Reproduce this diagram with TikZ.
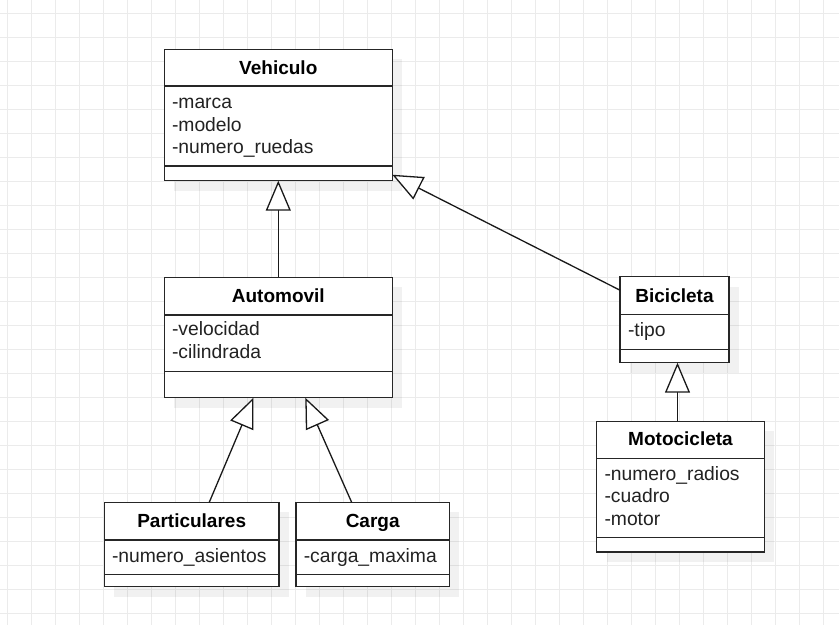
\documentclass[tikz,border=0pt]{standalone}
\usepackage{fontspec}
\setmainfont{Liberation Sans}
\usetikzlibrary{arrows.meta,calc,fit}
\definecolor{gridc}{HTML}{EBEBEB}
\definecolor{attrc}{HTML}{222222}
\tikzset{
  box/.style={draw=black!85, fill=white, line width=1.4pt, inner sep=0pt, outer sep=0pt, rectangle},
  boxline/.style={draw=black!85, line width=1.4pt},
  shadowbox/.style={fill=black, fill opacity=0.055},
  titletext/.style={anchor=base, inner sep=0pt, font=\fontsize{19}{22}\selectfont\bfseries, text=black},
  attrtext/.style={anchor=base west, inner sep=0pt, font=\fontsize{19.3}{22}\selectfont, text=attrc},
  inherit/.style={draw=black!90, line width=1.3pt, -{Triangle[fill=white, length=30pt, width=25pt, line width=1.3pt]}},
}
\newcommand\umlbox[7]{%
  \fill[shadowbox] ($(#2,#3)+(10,10)$) rectangle ($(#4,#5)+(10,10)$);
  \node[box, fit={(#2,#3) (#4,#5)}] (#1) {};
  \draw[boxline] (#2,#6) -- (#4,#6) (#2,#7) -- (#4,#7);
}
\begin{document}
\begin{tikzpicture}[x=1pt, y=-1pt]
\useasboundingbox (0,0) rectangle (839,625);
\fill[white] (0,0) rectangle (839,625);
% grid
\foreach \gx in {7.3,31.3,...,839} \draw[gridc, line width=1pt] (\gx,0) -- (\gx,625);
\foreach \gy in {13.3,37.3,...,625} \draw[gridc, line width=1pt] (0,\gy) -- (839,\gy);

% boxes
\umlbox{veh}{164.3}{49.3}{392.3}{180.7}{86}{166}
\umlbox{auto}{164.3}{277.3}{392.3}{397.7}{315}{371.7}
\umlbox{bici}{620}{276.7}{729}{362.7}{314.3}{349.3}
\umlbox{moto}{596.7}{421.3}{764.3}{552}{458.3}{537.7}
\umlbox{part}{104.3}{502.3}{279}{586.7}{540}{574.3}
\umlbox{carga}{296}{502.3}{449.3}{586.7}{540}{574.3}

% texts
\node[titletext] (vehT) at (278.3,74) {Vehiculo};
\node[attrtext] (veh1) at (171.8,108.5) {-marca};
\node[attrtext] (veh2) at (171.8,131) {-modelo};
\node[attrtext] (veh3) at (171.8,153.5) {-numero\_ruedas};

\node[titletext] (autoT) at (278.3,302.7) {Automovil};
\node[attrtext] (auto1) at (171.8,335.7) {-velocidad};
\node[attrtext] (auto2) at (171.8,358.7) {-cilindrada};

\node[titletext] (biciT) at (674.5,302.3) {Bicicleta};
\node[attrtext] (bici1) at (627.8,336) {-tipo};

\node[titletext] (motoT) at (680.5,445.7) {Motocicleta};
\node[attrtext] (moto1) at (604.3,480.7) {-numero\_radios};
\node[attrtext] (moto2) at (604.3,502.9) {-cuadro};
\node[attrtext] (moto3) at (604.3,525.1) {-motor};

\node[titletext] (partT) at (191.7,527.3) {Particulares};
\node[attrtext] (part1) at (111.8,562.3) {-numero\_asientos};

\node[titletext] (cargaT) at (372.7,527.3) {Carga};
\node[attrtext] (carga1) at (303.6,562.3) {-carga\_maxima};

% inheritance connectors
\draw[inherit] (auto.north) -- (veh.south);
\draw[inherit] ([yshift=-13.5pt]bici.north west) -- ([yshift=6pt]veh.south east);
\draw[inherit] ([xshift=-3pt]moto.north) -- ([xshift=3pt]bici.south);
\draw[inherit] ([xshift=17.6pt]part.north) -- ([xshift=-24.8pt]auto.south);
\draw[inherit] ([xshift=-21pt]carga.north) -- ([xshift=27pt]auto.south);
\end{tikzpicture}
\end{document}
